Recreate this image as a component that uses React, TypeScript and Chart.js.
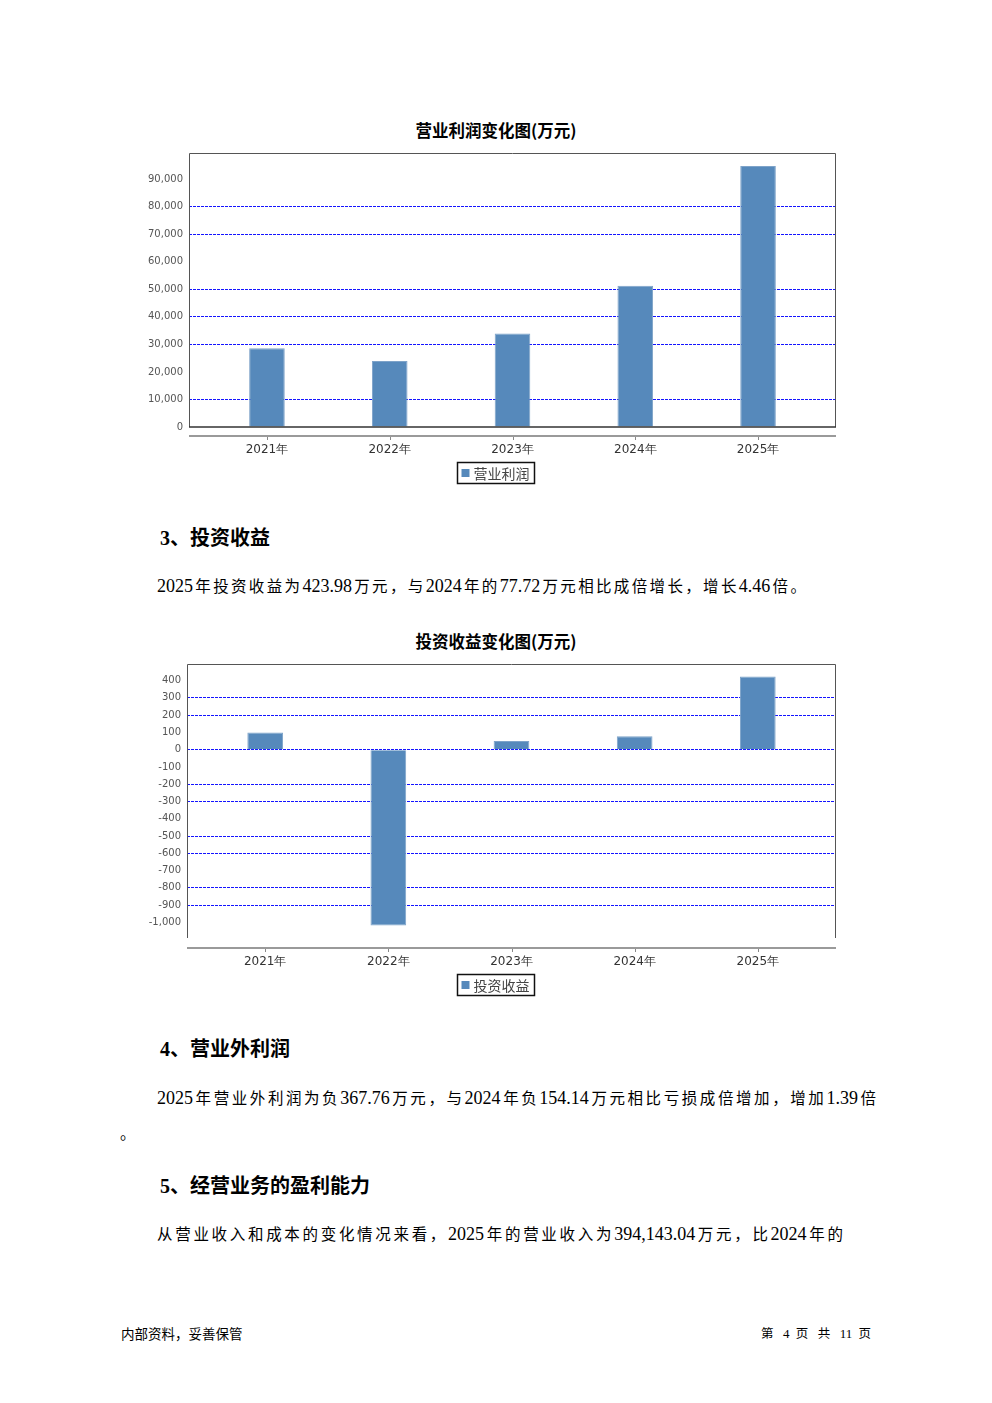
import React, { useEffect, useRef } from "react";
import { Chart, registerables } from "chart.js";

Chart.register(...registerables);

// ---------- data ----------
const years = ["2021年", "2022年", "2023年", "2024年", "2025年"];

const profitLabel = "营业利润";
const profitValues = [28600, 24000, 34000, 51300, 94800];
const profitTicks = [0, 10000, 20000, 30000, 40000, 50000, 60000, 70000, 80000, 90000];
// grid lines that do not show in the reference picture
const profitHiddenGrid = [0, 20000, 60000, 90000];

const investLabel = "投资收益";
const investValues = [100, -1018, 50, 77.72, 423.98];
const investTicks = [-1000, -900, -800, -700, -600, -500, -400, -300, -200, -100, 0, 100, 200, 300, 400];
const investHiddenGrid = [400, 100, -100, -400, -700, -1000];

const BAR_COLOR = "#5689BB";

// JFreeChart-like auto range: include zero, 5% margins
function autoRange(values: number[]) {
  const hi = Math.max(0, ...values);
  const lo = Math.min(0, ...values);
  const span = hi - lo;
  return { min: lo < 0 ? lo - span * 0.05 : 0, max: hi + span * 0.05 };
}

const framePlugin = {
  id: "docFrame",
  afterDraw(chart: any, _args: any, opts: any) {
    const { ctx, chartArea: a } = chart;
    ctx.save();
    // plot outline
    ctx.strokeStyle = "#555";
    ctx.lineWidth = 1;
    ctx.beginPath();
    ctx.moveTo(a.left + 0.5, a.bottom);
    ctx.lineTo(a.left + 0.5, a.top + 0.5);
    ctx.lineTo(a.right - 0.5, a.top + 0.5);
    ctx.lineTo(a.right - 0.5, a.bottom);
    ctx.stroke();
    if (opts.closedBottom) {
      ctx.strokeStyle = "#333";
      ctx.lineWidth = 1.5;
      ctx.beginPath();
      ctx.moveTo(a.left, a.bottom);
      ctx.lineTo(a.right, a.bottom);
      ctx.stroke();
    }
    // category axis line (offset below plot)
    const y = a.bottom + opts.axisGap;
    ctx.strokeStyle = "#9a9a9a";
    ctx.lineWidth = 2;
    ctx.beginPath();
    ctx.moveTo(a.left, y);
    ctx.lineTo(a.right, y);
    ctx.stroke();
    const xs = chart.scales.x;
    ctx.strokeStyle = "#888";
    ctx.lineWidth = 1;
    xs.ticks.forEach((t: any) => {
      const px = Math.round(xs.getPixelForValue(t.value)) + 0.5;
      ctx.beginPath();
      ctx.moveTo(px, y + 1);
      ctx.lineTo(px, y + 4);
      ctx.stroke();
    });
    // legend box
    const label = chart.data.datasets[0].label;
    ctx.font = '14px "Noto Sans CJK SC"';
    const tw = ctx.measureText(label).width;
    const w = 4 + 8 + 4 + tw + 5;
    const h = 21;
    const lx = Math.round(chart.width / 2 - w / 2) - 0.5;
    const ly = Math.round(a.bottom + opts.legendGap) + 0.5;
    ctx.fillStyle = "#fff";
    ctx.fillRect(lx, ly, w, h);
    ctx.strokeStyle = "#111";
    ctx.lineWidth = 1.5;
    ctx.strokeRect(lx, ly, w, h);
    ctx.fillStyle = BAR_COLOR;
    ctx.fillRect(lx + 4, ly + h / 2 - 4, 8, 8);
    ctx.fillStyle = "#444";
    ctx.textBaseline = "middle";
    ctx.textAlign = "left";
    ctx.fillText(label, lx + 16, ly + h / 2 + 1);
    ctx.restore();
  },
};

type BarProps = {
  top: number;
  height: number;
  label: string;
  values: number[];
  ticks: number[];
  hiddenGrid: number[];
  padding: { left: number; right: number; top: number; bottom: number };
  closedBottom: boolean;
  axisGap: number;
  legendGap: number;
  labelPad: number;
};

function BarChart(p: BarProps) {
  const ref = useRef<HTMLCanvasElement | null>(null);
  useEffect(() => {
    if (!ref.current) return;
    const range = autoRange(p.values);
    const chart = new Chart(ref.current, {
      type: "bar",
      data: {
        datasets: [
          {
            label: p.label,
            data: p.values.map((v, i) => ({ x: i, y: v })),
            backgroundColor: BAR_COLOR,
            borderColor: "#7ea3c9",
            borderWidth: 1,
            barPercentage: 0.29,
            categoryPercentage: 1,
          },
        ],
      },
      options: {
        animation: false,
        responsive: false,
        devicePixelRatio: 1,
        layout: { padding: p.padding },
        plugins: {
          legend: { display: false },
          tooltip: { enabled: false },
          title: { display: false },
          docFrame: { closedBottom: p.closedBottom, axisGap: p.axisGap, legendGap: p.legendGap },
        } as any,
        scales: {
          x: {
            type: "linear",
            offset: false,
            min: -0.635,
            max: years.length - 1 + 0.635,
            afterBuildTicks: (s: any) => {
              s.ticks = years.map((_, i) => ({ value: i }));
            },
            afterFit: (s: any) => {
              s.height = 30;
            },
            grid: { display: false, drawTicks: false, offset: false },
            border: { display: false },
            ticks: {
              padding: p.labelPad,
              color: "#333",
              font: { family: "DejaVu Sans", size: 12 },
              maxRotation: 0,
              autoSkip: false,
              callback: (v: any) => years[Number(v)],
            },
          },
          y: {
            min: range.min,
            max: range.max,
            afterBuildTicks: (s: any) => {
              s.ticks = p.ticks.map((v) => ({ value: v }));
            },
            afterFit: (s: any) => {
              s.width = 50;
            },
            grid: {
              drawTicks: false,
              lineWidth: 1,
              color: (c: any) =>
                c.tick && p.hiddenGrid.includes(c.tick.value) ? "rgba(0,0,0,0)" : "rgb(20,20,255)",
            },
            border: { display: false, dash: [3, 1] },
            ticks: {
              padding: 6,
              color: "#555",
              font: { family: "DejaVu Sans", size: 10 },
              callback: (v: any) => Number(v).toLocaleString("en-US"),
            },
          },
        },
      },
      plugins: [framePlugin],
    } as any);
    return () => chart.destroy();
  }, []);
  return (
    <canvas
      ref={ref}
      width={992}
      height={p.height}
      style={{ position: "absolute", left: 0, top: p.top, width: 992, height: p.height, display: "block" }}
    />
  );
}

const LATIN = /^[\u0000-\u024f]+$/;

function Line(props: {
  x: number;
  y: number;
  w?: number;
  cjk?: number;
  latin?: number;
  bold?: boolean;
  text: string;
  cjkFont?: string;
}) {
  const { x, y, w, cjk = 15.5, latin = 18, bold = false, text, cjkFont = '"Noto Sans CJK SC"' } = props;
  const parts = text.split(/([\u0000-\u024f]+)/).filter((s) => s.length > 0);
  return (
    <div
      lang="zh-CN"
      style={{
        position: "absolute",
        left: x,
        top: y - 12,
        width: w,
        height: 24,
        lineHeight: "24px",
        whiteSpace: w ? "normal" : "nowrap",
        textAlign: w ? "justify" : "left",
        textAlignLast: w ? "justify" : "auto",
        fontWeight: bold ? 700 : 400,
        color: "#000",
      } as any}
    >
      {parts.map((s, i) =>
        LATIN.test(s) ? (
          <span key={i} style={{ fontFamily: '"Liberation Serif"', fontSize: latin }}>
            {s}
          </span>
        ) : (
          <span key={i} style={{ fontFamily: cjkFont, fontSize: cjk }}>
            {s}
          </span>
        )
      )}
    </div>
  );
}

function Title({ y, text }: { y: number; text: string }) {
  return (
    <div
      style={{
        position: "absolute",
        left: 0,
        width: 992,
        top: y - 12,
        height: 24,
        lineHeight: "24px",
        textAlign: "center",
        fontFamily: '"Noto Sans CJK SC"',
        fontWeight: 700,
        fontSize: 16.5,
        color: "#000",
      }}
    >
      {text}
    </div>
  );
}

export default function App() {
  return (
    <div style={{ position: "absolute", left: 0, top: 0, width: 992, height: 1403, background: "#fff", overflow: "hidden" }}>
      <Title y={130} text="营业利润变化图(万元)" />
      <BarChart
        top={140}
        height={360}
        label={profitLabel}
        values={profitValues}
        ticks={profitTicks}
        hiddenGrid={profitHiddenGrid}
        padding={{ left: 139, right: 156, top: 13, bottom: 43 }}
        closedBottom={true}
        axisGap={9}
        legendGap={35}
        labelPad={16}
      />

      <Line x={160} y={537} text="3、投资收益" bold cjk={20} latin={20} />
      <Line x={157} y={585} w={649} text="2025年投资收益为423.98万元，与2024年的77.72万元相比成倍增长，增长4.46倍。" />

      <Title y={641} text="投资收益变化图(万元)" />
      <BarChart
        top={650}
        height={360}
        label={investLabel}
        values={investValues}
        ticks={investTicks}
        hiddenGrid={investHiddenGrid}
        padding={{ left: 137, right: 156, top: 14, bottom: 42 }}
        closedBottom={false}
        axisGap={10}
        legendGap={36}
        labelPad={17}
      />

      <Line x={160} y={1048} text="4、营业外利润" bold cjk={20} latin={20} />
      <Line x={157} y={1097} w={719} text="2025年营业外利润为负367.76万元，与2024年负154.14万元相比亏损成倍增加，增加1.39倍" />
      <Line x={120} y={1132} text="。" />

      <Line x={160} y={1185} text="5、经营业务的盈利能力" bold cjk={20} latin={20} />
      <Line x={157} y={1233} w={686} text="从营业收入和成本的变化情况来看，2025年的营业收入为394,143.04万元，比2024年的" />

      <Line x={121} y={1333} text="内部资料，妥善保管" cjk={13.5} latin={13} />
      <Line x={761} y={1333} w={110} text="第 4 页 共 11 页" cjk={12.5} latin={13} />
    </div>
  );
}
